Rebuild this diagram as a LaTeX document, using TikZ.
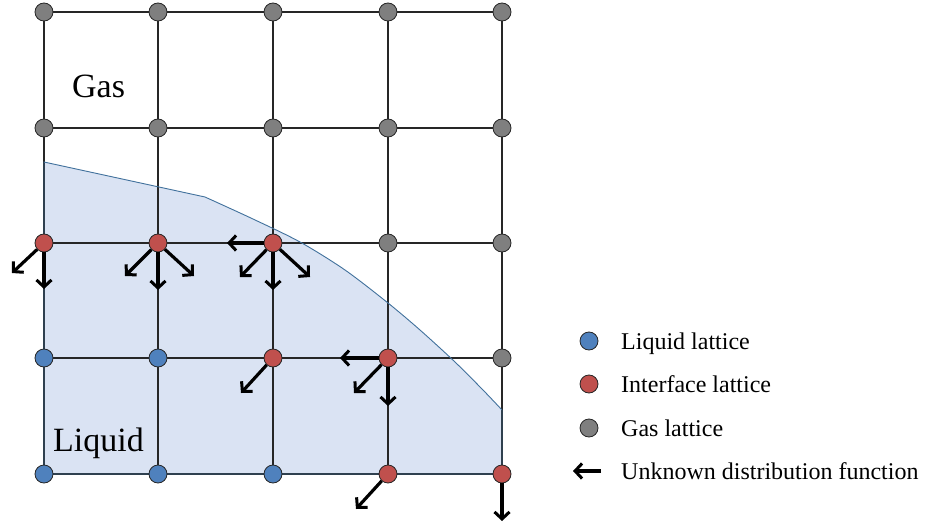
\documentclass[tikz,border=0pt]{standalone}
\usepackage{fontspec}
\setmainfont{Liberation Serif}
\usetikzlibrary{arrows.meta,calc,backgrounds}
\definecolor{liqfill}{HTML}{DAE3F3}
\definecolor{liqline}{HTML}{41719C}
\definecolor{liqnode}{HTML}{4F81BD}
\definecolor{intnode}{HTML}{C0504D}
\definecolor{gasnode}{HTML}{7F7F7F}
\tikzset{site/.style={circle,draw=black!85,line width=0.8pt,minimum size=18pt,inner sep=0pt}, liq/.style={site,fill=liqnode}, intf/.style={site,fill=intnode}, gas/.style={site,fill=gasnode}, gridline/.style={line width=1.2pt,draw=black!85}, distarrow/.style={-{Straight Barb[length=7pt,width=15pt,line width=3pt]},line width=3.2pt,draw=black}, legtext/.style={anchor=base west,inner sep=0pt,font=\fontsize{24}{28}\selectfont}, region/.style={anchor=base west,inner sep=0pt,font=\fontsize{34}{38}\selectfont}}

\begin{document}
\begin{tikzpicture}[x=1pt,y=-1pt]
\useasboundingbox (0,0) rectangle (934,524);
% lattice sites
\foreach \c/\x in {1/44,2/158,3/273,4/388,5/502}
  \foreach \r/\y in {1/12,2/128}
    \node[gas] (n\c\r) at (\x,\y) {};
\node[intf] (n13) at (44,243) {};
\node[intf] (n23) at (158,243) {};
\node[intf] (n33) at (273,243) {};
\node[gas] (n43) at (388,243) {};
\node[gas] (n53) at (502,243) {};
\node[liq] (n14) at (44,358) {};
\node[liq] (n24) at (158,358) {};
\node[intf] (n34) at (273,358) {};
\node[intf] (n44) at (388,358) {};
\node[gas] (n54) at (502,358) {};
\node[liq] (n15) at (44,474) {};
\node[liq] (n25) at (158,474) {};
\node[liq] (n35) at (273,474) {};
\node[intf] (n45) at (388,474) {};
\node[intf] (n55) at (502,474) {};
\begin{scope}[on background layer]
\fill[liqfill] (44,162) -- (205,197) -- plot[smooth] coordinates {(205,197) (253,219) (300,242) (345,270) (388,303) (420,330) (455,362) (483,390) (502,410)} -- (502,474) -- (44,474) -- cycle;
\foreach \i in {1,...,5} {
  \draw[gridline] (n\i1.center) -- (n\i5.center);
  \draw[gridline] (n1\i.center) -- (n5\i.center);
}
\draw[liqline,line width=0.9pt] (44,162) -- (205,197) -- plot[smooth] coordinates {(205,197) (253,219) (300,242) (345,270) (388,303) (420,330) (455,362) (483,390) (502,410)} -- (502,474) -- (44,474) -- cycle;
\end{scope}
% unknown distribution functions
\foreach \n/\dx/\dy in {13/-32/30, 13/0/46, 23/-33/33, 23/0/47, 23/36/33, 33/-46/0, 33/-33/34, 33/0/47, 33/37/34, 34/-32/35, 44/-48/0, 44/-34/35, 44/0/48, 45/-32/35, 55/0/47} {
  \coordinate (tip) at ($(n\n)+(\dx,\dy)$);
  \draw[distarrow] (n\n) -- (tip);
}
\node[region] (gaslbl) at (72,98) {Gas};
\node[region] (liqlbl) at (53,451) {Liquid};
% legend
\node[liq] (kliq) at (589,341) {};
\node[intf] (kint) at (589,384) {};
\node[gas] (kgas) at (589,428) {};
\coordinate (kfrom) at (601,471);
\coordinate (kto) at (573,471);
\draw[distarrow] (kfrom) -- (kto);
\node[legtext] at (621,349) {Liquid lattice};
\node[legtext] at (621,392) {Interface lattice};
\node[legtext] at (621,436) {Gas lattice};
\node[legtext] at (621,479) {Unknown distribution function};
\end{tikzpicture}
\end{document}
